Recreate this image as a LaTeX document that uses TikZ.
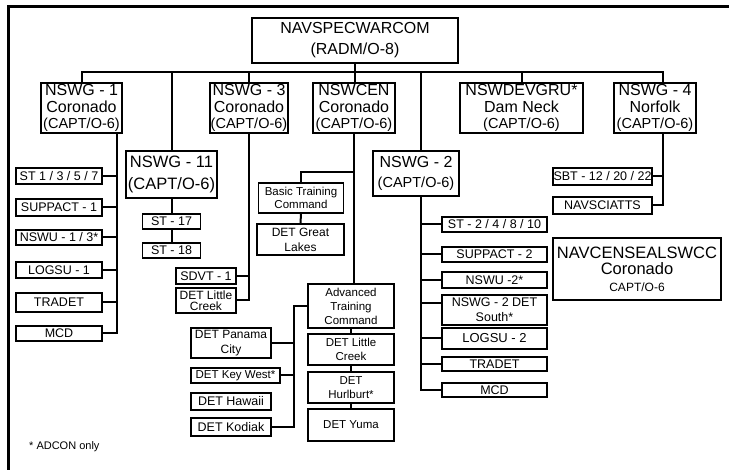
\documentclass[tikz,border=0pt]{standalone}
\usepackage{fontspec}
\setmainfont{Liberation Sans}
\newcommand\myfs[2]{\fontsize{#1}{#2}\selectfont}
\begin{document}
\begin{tikzpicture}[x=1pt,y=-1pt,
  big/.style={draw, line width=2.6pt, inner sep=0pt, align=center, font=\myfs{16}{16.5}},
  sm/.style={draw, line width=1.3pt, inner sep=0pt, align=center, font=\myfs{12.5}{13.5}},
  conn/.style={line width=2pt}]
\useasboundingbox (0,0) rectangle (729,470);
\draw[line width=3pt] (729,7) -- (8,7) -- (8,470);

% top level
\node[big, minimum width=206pt, minimum height=45pt, font=\myfs{16}{21}] (top) at (355,40.5) {NAVSPECWARCOM\\(RADM/O-8)};
\node[big, minimum width=81pt, minimum height=50pt] (nswg1) at (81.5,108) {NSWG - 1\\Coronado\\{\myfs{14.5}{16.5}(CAPT/O-6)}};
\node[big, minimum width=78pt, minimum height=50pt] (nswg3) at (249,108) {NSWG - 3\\Coronado\\{\myfs{14.5}{16.5}(CAPT/O-6)}};
\node[big, minimum width=82pt, minimum height=50pt] (nswcen) at (354,108) {NSWCEN\\Coronado\\{\myfs{14.5}{16.5}(CAPT/O-6)}};
\node[big, minimum width=123pt, minimum height=50pt] (nswdev) at (521.5,108) {NSWDEVGRU*\\Dam Neck\\{\myfs{14.5}{16.5}(CAPT/O-6)}};
\node[big, minimum width=82pt, minimum height=50pt] (nswg4) at (655,108) {NSWG - 4\\Norfolk\\{\myfs{14.5}{16.5}(CAPT/O-6)}};
\node[big, minimum width=91pt, minimum height=47pt, font=\myfs{16.5}{22}] (nswg11) at (171.5,174.5) {NSWG - 11\\(CAPT/O-6)};
\node[big, minimum width=86pt, minimum height=45pt, font=\myfs{16}{20}] (nswg2) at (416,173.5) {NSWG - 2\\{\myfs{14.5}{16}(CAPT/O-6)}};
\node[sm, line width=1.5pt, minimum width=168pt, minimum height=62pt, font=\myfs{16.5}{16.5}] (seal) at (637,269) {NAVCENSEALSWCC\\Coronado\\{\myfs{12}{14}CAPT/O-6}};

% bus
\coordinate (bus) at (0,72);
\coordinate (d4) at (663,72);
\coordinate (d2) at (421,72);
\draw[conn] (nswg1.north) |- (d4) -- (d4 |- nswg4.north);
\draw[conn] (nswg11.north) -- (nswg11.north |- bus);
\draw[conn] (nswg3.north) -- (nswg3.north |- bus);
\draw[conn] (top.south) -- (top.south |- nswcen.north);
\draw[conn] (d2) -- (d2 |- nswg2.north);
\draw[conn] (nswdev.north) -- (nswdev.north |- bus);

% NSWG-1 children
\node[sm, minimum width=86pt, minimum height=16pt] (st1) at (59,176) {ST 1 / 3 / 5 / 7};
\node[sm, minimum width=86pt, minimum height=17pt] (supp1) at (59,207.5) {SUPPACT - 1};
\node[sm, minimum width=86pt, minimum height=15pt] (nswu1) at (59,237.5) {NSWU - 1 / 3*};
\node[sm, minimum width=86pt, minimum height=16pt] (logsu1) at (59,270) {LOGSU - 1};
\node[sm, minimum width=86pt, minimum height=19pt] (tradet1) at (59,302.5) {TRADET};
\node[sm, minimum width=86pt, minimum height=15pt] (mcd1) at (59,333.5) {MCD};
\coordinate (v1) at (117,0);
\draw[conn] (v1 |- nswg1.south) |- (mcd1.east);
\foreach \n in {st1,supp1,nswu1,logsu1,tradet1}
  \draw[conn] (\n.east) -- (\n.east -| v1);

% NSWG-11 children
\node[sm, minimum width=58pt, minimum height=15pt, font=\myfs{12.5}{14}] (st17) at (171.5,221.5) {ST - 17};
\node[sm, minimum width=58pt, minimum height=15pt, font=\myfs{12.5}{14}] (st18) at (171.5,250.5) {ST - 18};
\draw[conn] (nswg11.south) -- (st17.north);
\draw[conn] (st17.south) -- (st18.north);

% NSWG-3 children
\node[sm, minimum width=60pt, minimum height=16pt] (sdvt) at (206,276) {SDVT - 1};
\node[sm, minimum width=60pt, minimum height=25pt, font=\myfs{12}{11}] (dlc3) at (206,300.5) {DET Little\\Creek};
\draw[conn] (nswg3.south) |- (dlc3.east);
\draw[conn] (sdvt.east) -- (sdvt.east -| nswg3.south);

% NSWCEN children
\node[sm, minimum width=85pt, minimum height=30pt, font=\myfs{11.5}{13.5}] (basic) at (301,198) {Basic Training\\Command};
\node[sm, minimum width=87pt, minimum height=31pt, font=\myfs{12}{15}] (dgl) at (300.5,239.5) {DET Great\\Lakes};
\coordinate (br) at (354,172);
\draw[conn] (br) -| (basic.north);
\draw[conn] (basic.south) -- (dgl.north);
\node[sm, minimum width=86pt, minimum height=44pt, font=\myfs{11.5}{14}] (adv) at (351,306) {Advanced\\Training\\Command};
\node[sm, minimum width=86pt, minimum height=31pt, font=\myfs{11.5}{14}] (dlc2) at (351,349.5) {DET Little\\Creek};
\node[sm, minimum width=86pt, minimum height=31pt, font=\myfs{11.5}{14}] (dhur) at (351,387.5) {DET\\Hurlburt*};
\node[sm, minimum width=86pt, minimum height=32pt, font=\myfs{11.5}{14}] (dyuma) at (351,425) {DET Yuma};
\draw[conn] (nswcen.south) -- (nswcen.south |- adv.north);
\draw[conn] (adv.south) -- (dlc2.north);
\draw[conn] (dlc2.south) -- (dhur.north);
\draw[conn] (dhur.south) -- (dyuma.north);

\node[sm, minimum width=80pt, minimum height=30pt, font=\myfs{12}{15}] (panama) at (231,343) {DET Panama\\City};
\node[sm, minimum width=89pt, minimum height=15pt, font=\myfs{11.5}{13}] (keyw) at (235.5,375.5) {DET Key West*};
\node[sm, minimum width=80pt, minimum height=17pt] (hawaii) at (231,401.5) {DET Hawaii};
\node[sm, minimum width=80pt, minimum height=18pt] (kodiak) at (231,427) {DET Kodiak};
\coordinate (lb) at (294,0);
\draw[conn] (adv.west) -- (adv.west -| lb) |- (kodiak.east);
\draw[conn] (panama.east) -- (panama.east -| lb);
\draw[conn] (keyw.east) -- (keyw.east -| lb);

% NSWG-2 children
\node[sm, minimum width=105pt, minimum height=15pt] (st2) at (494.5,224.5) {ST - 2 / 4 / 8 / 10};
\node[sm, minimum width=105pt, minimum height=15pt] (supp2) at (494.5,254.5) {SUPPACT - 2};
\node[sm, minimum width=105pt, minimum height=16pt] (nswu2) at (494.5,280) {NSWU -2*};
\node[sm, minimum width=105pt, minimum height=30pt, font=\myfs{12.5}{15}] (n2det) at (494.5,310) {NSWG - 2 DET\\South*};
\node[sm, minimum width=105pt, minimum height=21pt, font=\myfs{13}{14}] (logsu2) at (494.5,338.5) {LOGSU - 2};
\node[sm, minimum width=105pt, minimum height=14pt] (tradet2) at (494.5,364) {TRADET};
\node[sm, minimum width=105pt, minimum height=14pt] (mcd2) at (494.5,390) {MCD};
\draw[conn] (d2 |- nswg2.south) |- (mcd2.west);
\foreach \n in {st2,supp2,nswu2,logsu2,tradet2}
  \draw[conn] (\n.west) -- (\n.west -| d2);
\draw[conn] ([yshift=7pt]n2det.west) -- ([yshift=7pt]n2det.west -| d2);

% NSWG-4 children
\node[sm, minimum width=99pt, minimum height=17pt] (sbt) at (602.5,176.5) {SBT - 12 / 20 / 22};
\node[sm, minimum width=99pt, minimum height=17pt] (navsci) at (602.5,205.5) {NAVSCIATTS};
\draw[conn] (d4 |- nswg4.south) |- (navsci.east);
\draw[conn] (sbt.east) -- (sbt.east -| d4);

% footnote
\node[anchor=west, inner sep=0pt, font=\myfs{11}{13}] (fn) at (29,447) {* ADCON only};
\end{tikzpicture}
\end{document}
